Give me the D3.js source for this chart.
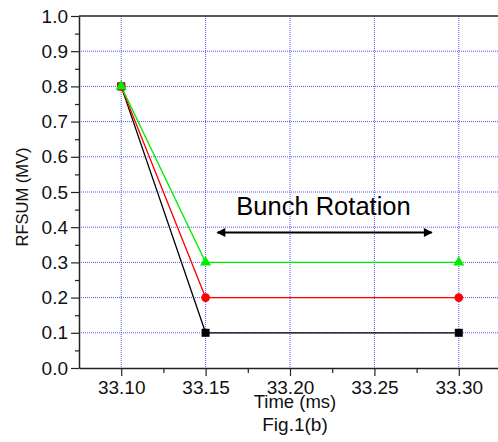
<!DOCTYPE html>
<html>
<head>
<meta charset="utf-8">
<script src="https://cdn.jsdelivr.net/npm/d3@7"></script>
<style>
  html, body { margin: 0; padding: 0; background: #fff; }
  svg { display: block; font-family: "Liberation Sans", Arial, sans-serif; }
</style>
</head>
<body>
<svg id="chart" width="498" height="442"></svg>
<script>
// Time points (ms) and RFSUM amplitudes (MV) for the three voltage cases
const times = [33.10, 33.15, 33.30];
const seriesLow = [0.8, 0.1, 0.1];   // black squares
const seriesMid = [0.8, 0.2, 0.2];   // red circles
const seriesHigh = [0.8, 0.3, 0.3];  // green triangles

const xTicks = [33.10, 33.15, 33.20, 33.25, 33.30];
const xMinorTicks = [33.125, 33.175, 33.225, 33.275, 33.325];
const yTicks = [0.0, 0.1, 0.2, 0.3, 0.4, 0.5, 0.6, 0.7, 0.8, 0.9, 1.0];
const yMinorTicks = [0.05, 0.15, 0.25, 0.35, 0.45, 0.55, 0.65, 0.75, 0.85, 0.95];

const xLabel = "Time (ms)";
const yLabel = "RFSUM (MV)";
const caption = "Fig.1(b)";
const annotation = "Bunch Rotation";
const arrowSpan = [33.157, 33.284];
const arrowLevel = 0.385;

const FONT = "'Liberation Sans', Arial, sans-serif";
const svg = d3.select("#chart");
const plotLeft = 79, plotRight = 501, plotTop = 16, plotBottom = 368;

const x = d3.scaleLinear().domain([33.075, 33.325]).range([plotLeft, plotRight]);
const y = d3.scaleLinear().domain([0, 1]).range([plotBottom, plotTop]);

// dotted blue grid at major ticks
const grid = svg.append("g")
  .attr("stroke", "#3838ff").attr("stroke-width", 1)
  .attr("stroke-dasharray", "1,1").attr("opacity", 0.85);
grid.selectAll("line.gx").data(xTicks).join("line")
  .attr("x1", d => x(d)).attr("x2", d => x(d))
  .attr("y1", plotTop).attr("y2", plotBottom);
grid.selectAll("line.gy").data(yTicks.filter(d => d > 0 && d < 1)).join("line")
  .attr("x1", plotLeft).attr("x2", plotRight)
  .attr("y1", d => y(d)).attr("y2", d => y(d));

// axes
const fmtX = d3.format(".2f"), fmtY = d3.format(".1f");
const xAxis = svg.append("g").attr("transform", `translate(0,${plotBottom})`)
  .call(d3.axisBottom(x).tickValues(xTicks).tickFormat(fmtX).tickSize(8).tickPadding(5).tickSizeOuter(0));
const xMinor = svg.append("g").attr("transform", `translate(0,${plotBottom})`)
  .call(d3.axisBottom(x).tickValues(xMinorTicks).tickFormat("").tickSize(5).tickSizeOuter(0));
const yAxis = svg.append("g").attr("transform", `translate(${plotLeft},0)`)
  .call(d3.axisLeft(y).tickValues(yTicks).tickFormat(fmtY).tickSize(8).tickPadding(3).tickSizeOuter(0));
const yMinor = svg.append("g").attr("transform", `translate(${plotLeft},0)`)
  .call(d3.axisLeft(y).tickValues(yMinorTicks).tickFormat("").tickSize(4).tickSizeOuter(0));

[xAxis, xMinor, yAxis, yMinor].forEach(g => {
  g.selectAll("path.domain").attr("stroke", "#222").attr("stroke-width", 1.5);
  g.selectAll(".tick line").attr("stroke", "#222").attr("stroke-width", 1.2);
  g.selectAll(".tick text").attr("fill", "#111").style("font-size", "19px")
    .style("font-family", FONT);
});
xMinor.select("path.domain").remove();
yMinor.select("path.domain").remove();

// top frame line
svg.append("line").attr("x1", plotLeft).attr("x2", plotRight)
  .attr("y1", plotTop).attr("y2", plotTop)
  .attr("stroke", "#222").attr("stroke-width", 1.5);

// data series
const series = [
  { vals: seriesLow, color: "#000000", shape: d3.symbolSquare, size: 64 },
  { vals: seriesMid, color: "#ff0000", shape: d3.symbolCircle, size: 60 },
  { vals: seriesHigh, color: "#00ee00", shape: d3.symbolTriangle, size: 52 }
];
const line = d3.line().x((d, i) => x(times[i])).y(d => y(d));
series.forEach(s => {
  svg.append("path").datum(s.vals)
    .attr("d", line).attr("fill", "none")
    .attr("stroke", s.color).attr("stroke-width", 1.3);
});
series.forEach(s => {
  svg.append("g").selectAll("path").data(s.vals).join("path")
    .attr("transform", (d, i) => `translate(${x(times[i])},${y(d)})`)
    .attr("d", d3.symbol().type(s.shape).size(s.size))
    .attr("fill", s.color);
});

// annotation with double-headed arrow
const defs = svg.append("defs");
["start", "end"].forEach(k => {
  defs.append("marker").attr("id", "ah-" + k)
    .attr("viewBox", "0 0 10 10").attr("refX", 9).attr("refY", 5)
    .attr("markerWidth", 5).attr("markerHeight", 4)
    .attr("markerUnits", "strokeWidth")
    .attr("orient", k === "start" ? "auto-start-reverse" : "auto")
    .append("path").attr("d", "M0,0 L10,5 L0,10 Z").attr("fill", "#000");
});
svg.append("line")
  .attr("x1", x(arrowSpan[0])).attr("x2", x(arrowSpan[1]))
  .attr("y1", y(arrowLevel)).attr("y2", y(arrowLevel))
  .attr("stroke", "#000").attr("stroke-width", 2.2)
  .attr("marker-start", "url(#ah-start)").attr("marker-end", "url(#ah-end)");
svg.append("text").attr("x", 323.5).attr("y", 215)
  .attr("text-anchor", "middle").style("font-size", "25.5px")
  .style("font-family", FONT).attr("fill", "#000")
  .text(annotation);

// axis titles and caption
svg.append("text").attr("x", 295).attr("y", 408)
  .attr("text-anchor", "middle").style("font-size", "18.5px")
  .style("font-family", FONT).attr("fill", "#111")
  .text(xLabel);
svg.append("text").attr("x", 295).attr("y", 431)
  .attr("text-anchor", "middle").style("font-size", "19px")
  .style("font-family", FONT).attr("fill", "#111")
  .text(caption);
svg.append("text").attr("transform", "translate(28,197) rotate(-90)")
  .attr("text-anchor", "middle").style("font-size", "16.5px")
  .style("font-family", FONT).attr("fill", "#111")
  .text(yLabel);
</script>
</body>
</html>
